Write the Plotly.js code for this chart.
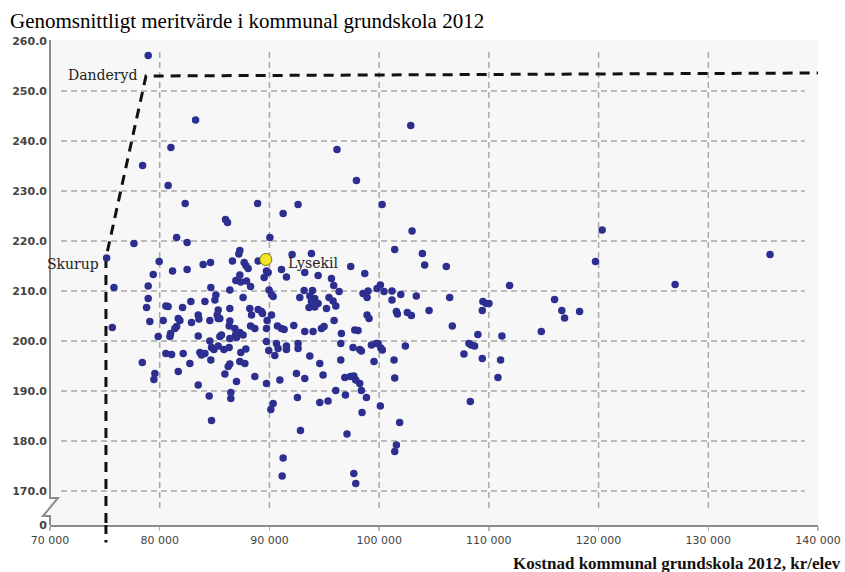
<!DOCTYPE html>
<html>
<head>
<meta charset="utf-8">
<script src="https://cdn.plot.ly/plotly-3.0.1.min.js"></script>
<style>html,body{margin:0;padding:0;background:#fff;}#chart{width:845px;height:572px;}</style>
</head>
<body>
<div id="chart"></div>
<script>
// Cost per pupil (kr/elev) for each municipality
var costX = [
78950,78440,81020,80770,82320,83270,77650,75160,79950,79410,75830,75680,78410,78950,78950,78800,79100,
88920,92610,91250,86000,86180,81540,82500,90040,87300,87210,92070,93830,83960,84630,86630,87700,87850,88060,88970,
82500,81170,89730,89880,91100,91550,87300,86940,87390,87910,89520,93220,94440,95650,95860,96350,97410,98690,
84660,88280,86390,85120,85030,87600,89970,90190,90340,92770,93160,93920,93680,94130,93830,94440,93610,94130,
95430,95800,96050,95200,98530,98990,98900,99810,80560,80770,82080,82840,84120,85330,85240,86390,88210,88370,88970,89280,89370,90190,
80320,81690,81840,81540,82900,83510,83570,84570,85330,85480,86390,86330,86850,87300,87600,88280,88670,89790,89730,90730,91100,91340,92220,93220,93980,94740,94980,95890,96560,97780,98080,98900,99080,99900,
79860,80930,80990,81380,80560,81080,82140,83510,83660,83810,84120,84570,84720,84940,85480,85630,85330,86390,86910,87000,85850,86330,87390,87850,89730,89940,90640,90790,91550,91550,92610,92610,90490,93680,94590,96500,97620,98230,98380,99300,99750,
81690,82750,84660,79560,79470,86240,86390,87300,87760,85940,87000,88670,89730,90950,92460,93220,94890,83510,86480,84510,86480,84720,90340,90130,92550,94590,95340,96050,96930,92830,91250,91160,
101420,103940,104150,106120,111890,100110,100450,101170,101970,101170,103390,106430,109460,109770,110010,109400,101570,101660,102570,102940,104550,106670,109000,108190,108400,108700,107730,111190,109400,111070,110830,108310,100110,102390,101360,101420,101870,101570,101420,100290,100150,99530,96500,96870,97380,97690,97870,98230,98380,98840,98440,97070,97690,97870,
119720,120330,135630,126980,115990,116650,116900,118270,114780,
102880,96160,97930,100270,103000
];
// Average merit value for each municipality
var meritY = [
257.1,235.1,238.7,231.1,227.5,244.2,219.5,216.6,215.9,213.3,210.7,202.7,195.7,211.0,208.5,206.7,203.9,
227.5,227.3,225.5,224.3,223.7,220.7,219.7,220.7,218.1,217.4,217.3,217.5,215.3,215.7,216.0,215.7,215.1,214.5,216.0,
214.3,214.0,214.0,213.7,214.3,212.8,213.2,212.1,211.8,212.0,212.7,213.7,213.1,212.5,211.1,209.9,214.9,213.5,
210.7,210.9,210.2,209.2,208.2,208.7,210.2,209.3,208.9,208.7,210.1,210.1,209.0,208.5,207.9,207.5,206.7,206.8,
208.7,208.0,207.0,206.5,209.5,210.0,208.7,210.5,207.0,206.9,206.7,207.9,207.9,206.2,205.2,206.5,206.5,205.2,206.3,205.9,205.5,205.2,
204.1,204.5,204.1,202.9,203.7,205.2,204.4,204.1,204.5,204.5,204.0,203.0,202.5,201.7,201.2,203.0,202.5,204.1,202.5,203.0,202.5,202.3,203.1,201.9,201.9,202.5,202.9,204.1,201.5,202.2,202.1,205.2,204.5,199.5,
200.9,200.9,201.5,202.5,197.5,197.3,197.5,201.0,197.7,197.2,197.5,200.0,198.7,198.3,200.9,201.2,199.0,200.5,201.2,200.7,198.3,198.7,197.7,198.4,199.9,198.1,199.5,198.5,199.0,198.3,199.5,198.5,197.1,197.0,195.5,199.5,198.7,198.3,198.0,199.2,199.5,
193.9,195.5,196.2,193.5,192.3,194.9,195.4,195.9,195.5,193.4,191.9,192.9,191.5,192.2,193.5,192.5,193.2,191.2,189.7,189.0,188.5,184.1,187.5,186.3,188.7,187.7,188.0,190.1,189.2,182.1,176.6,173.0,
218.3,217.5,215.2,214.9,211.1,211.2,209.9,210.0,209.3,208.2,209.0,208.7,207.9,207.5,207.5,206.1,205.9,205.4,205.7,205.1,206.1,203.0,201.3,199.5,199.2,199.0,197.4,201.0,196.5,196.2,192.7,187.9,187.0,199.0,196.2,192.6,183.7,179.2,177.9,198.2,198.6,195.9,196.2,192.7,192.9,193.0,192.2,191.5,190.1,188.7,185.7,181.4,173.5,171.5,
215.9,222.2,217.3,211.3,208.3,206.1,204.6,205.9,201.9,
243.1,238.3,232.1,227.3,222.0
];
// Highlighted municipality
var lysekilX = [89670];
var lysekilY = [216.3];
// Efficiency frontier (Skurup -> Danderyd -> right edge)
var frontierX = [75100, 75100, 78750, 140000];
var frontierY = [150, 216.6, 253.0, 253.6];
// Named points for labels
var skurupX = 75160, skurupY = 216.6;
var danderydX = 78750, danderydY = 253.0;
// Axis ticks
var xTickVals = [70000, 80000, 90000, 100000, 110000, 120000, 130000, 140000];
var xTickText = ['70 000','80 000','90 000','100 000','110 000','120 000','130 000','140 000'];
var yTickVals = [163.2, 170, 180, 190, 200, 210, 220, 230, 240, 250, 260];
var yTickText = ['0','170.0','180.0','190.0','200.0','210.0','220.0','230.0','240.0','250.0','260.0'];
var gridY = [170, 180, 190, 200, 210, 220, 230, 240, 250];
var gridX = [80000, 90000, 100000, 110000, 120000, 130000];

var shapes = [];
gridY.forEach(function(v){
  shapes.push({type:'line', xref:'x', yref:'y', x0:71000, x1:138800, y0:v, y1:v, layer:'below',
    line:{color:'#a8a8a8', width:1.5, dash:'6px,4px'}});
});
gridX.forEach(function(v){
  shapes.push({type:'line', xref:'x', yref:'y', x0:v, x1:v, y0:166.6, y1:258.2, layer:'below',
    line:{color:'#a8a8a8', width:1.5, dash:'6px,4px'}});
});
// broken y-axis line
shapes.push({type:'path', xref:'paper', yref:'paper', xsizemode:'pixel', ysizemode:'pixel', xanchor:0, yanchor:0,
  path:'M0,0 L0,9 L-7,9 L8,27 L0,27 L0,485', line:{color:'#8c8c8c', width:2}, fillcolor:'rgba(0,0,0,0)'});
// frontier continues below the x axis
shapes.push({type:'line', xref:'x', yref:'paper', x0:frontierX[0], x1:frontierX[0], y0:0, y1:-0.036,
  line:{color:'#111', width:3, dash:'9px,6px'}});

var traces = [
  {x: frontierX, y: frontierY, mode:'lines', type:'scatter', hoverinfo:'skip',
   line:{color:'#111', width:3, dash:'10px,7px'}},
  {x: costX, y: meritY, mode:'markers', type:'scatter',
   marker:{color:'#2c2f8f', size:7.5, line:{width:0}}},
  {x: lysekilX, y: lysekilY, mode:'markers', type:'scatter',
   marker:{color:'#f3e62a', size:12, line:{color:'#7d7200', width:1}}}
];

var serif = 'DejaVu Serif';
var layout = {
  width: 845, height: 572,
  margin: {l:50, r:27, t:40, b:47},
  paper_bgcolor:'#ffffff', plot_bgcolor:'#f7f7f7',
  showlegend:false,
  title: {text:'Genomsnittligt meritvärde i kommunal grundskola 2012', xref:'container', x:10/845, xanchor:'left',
    yref:'container', y:1-21/572, yanchor:'middle',
    font:{family:'Liberation Serif', size:21, color:'#000'}},
  xaxis: {range:[70000,140000], tickvals:xTickVals, ticktext:xTickText, showgrid:false, zeroline:false,
    showline:true, linecolor:'#8c8c8c', linewidth:2, ticks:'outside', ticklen:4, tickcolor:'#b5b5b5', tickwidth:1.5,
    tickfont:{family:'DejaVu Sans', size:11, color:'#444'}},
  yaxis: {range:[163.2,260.2], tickvals:yTickVals, ticktext:yTickText, showgrid:false, zeroline:false,
    showline:false, ticks:'', ticklabelstandoff:2,
    tickfont:{family:'DejaVu Sans', size:11, color:'#444', weight:'bold'}},
  shapes: shapes,
  annotations: [
    {xref:'x', yref:'y', x:danderydX, y:danderydY, text:'Danderyd', showarrow:false, xanchor:'right', yanchor:'middle',
      xshift:-7, yshift:1, font:{family:serif, size:14, color:'#222'}},
    {xref:'x', yref:'y', x:skurupX, y:skurupY, text:'Skurup', showarrow:false, xanchor:'right', yanchor:'middle',
      xshift:-6, yshift:-6, font:{family:serif, size:14, color:'#222'}},
    {xref:'x', yref:'y', x:lysekilX[0], y:lysekilY[0], text:'Lysekil', showarrow:false, xanchor:'left', yanchor:'middle',
      xshift:20, yshift:-3, font:{family:serif, size:14, color:'#222'}},
    {xref:'paper', yref:'paper', x:(843-50)/768, y:(525-563)/485, text:'<b>Kostnad kommunal grundskola 2012, kr/elev</b>',
      showarrow:false, xanchor:'right', yanchor:'middle', font:{family:'Liberation Serif', size:17, color:'#111'}}
  ]
};
Plotly.newPlot('chart', traces, layout, {staticPlot:true, displayModeBar:false});
</script>
</body>
</html>
